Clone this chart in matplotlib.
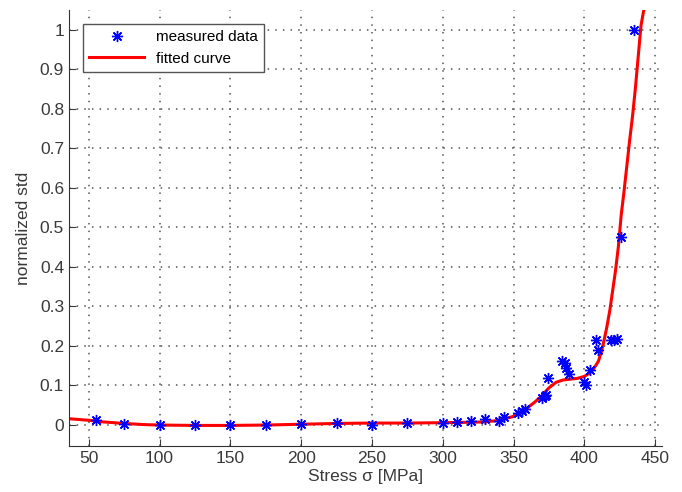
import numpy as np
import matplotlib
matplotlib.use("Agg")
import matplotlib.pyplot as plt

plt.rcParams['font.family'] = ['Liberation Sans', 'DejaVu Sans']

# measured points
stress = [55, 75, 100, 125, 150, 175, 200, 225, 250, 275, 300, 310, 320, 330,
          340, 343, 353, 356, 358, 370, 372, 373, 374, 384, 386, 387, 389,
          400, 401, 404, 408, 410, 419, 421, 423, 426, 435]
nstd = [0.012, 0.003, 0.0, 0.0, 0.0, 0.0, 0.003, 0.006, 0.001, 0.005, 0.005,
        0.008, 0.011, 0.015, 0.01, 0.02, 0.031, 0.035, 0.04, 0.068, 0.073,
        0.075, 0.12, 0.163, 0.157, 0.145, 0.128, 0.11, 0.1, 0.138, 0.215,
        0.19, 0.215, 0.215, 0.218, 0.476, 1.0]

# fitted curve
fit_x = [36, 50, 60, 75, 90, 100, 125, 150, 175, 200, 225, 250, 275, 300,
         320, 330, 340, 350, 355, 360, 365, 370, 375, 380, 385, 390, 395,
         400, 403, 406, 408, 410, 412, 414, 416, 418, 420, 422, 424, 426,
         428, 430, 432, 434, 436, 438, 440, 442, 443]
fit_y = [0.016, 0.012, 0.008, 0.004, 0.001, 0.0, -0.001, -0.001, 0.0, 0.002,
         0.004, 0.005, 0.005, 0.006, 0.007, 0.008, 0.012, 0.022, 0.03, 0.044,
         0.058, 0.074, 0.094, 0.108, 0.114, 0.116, 0.118, 0.123, 0.13, 0.14,
         0.15, 0.162, 0.185, 0.215, 0.25, 0.29, 0.34, 0.39, 0.45, 0.53, 0.59,
         0.655, 0.72, 0.78, 0.85, 0.93, 1.01, 1.05, 1.07]

fig = plt.figure(figsize=(6.82, 4.92), dpi=100)
ax = fig.add_axes([0.101, 0.0935, 0.87, 0.8865])

ax.plot(stress, nstd, linestyle='none', marker=(8, 2, 0), color='#0000ff',
        markersize=8, markeredgewidth=1.0, label='measured data', zorder=3)
ax.plot(fit_x, fit_y, color='#ff0000', linewidth=2.2, label='fitted curve', zorder=2)

ax.set_xlim(36, 455)
ax.set_ylim(-0.053, 1.05)
ax.set_xticks(np.arange(50, 451, 50))
ax.set_yticks(np.arange(0, 1.01, 0.1))
ax.set_yticklabels(['0', '0.1', '0.2', '0.3', '0.4', '0.5', '0.6', '0.7', '0.8', '0.9', '1'])

ax.grid(True, linestyle=(0, (1, 4)), color='#555555', linewidth=1.1)
ax.tick_params(direction='in', length=5, colors='#3a3a3a', labelsize=12.5)
for s in ['top', 'right']:
    ax.spines[s].set_visible(False)
for s in ['left', 'bottom']:
    ax.spines[s].set_color('#333333')

ax.set_xlabel('Stress σ [MPa]', fontsize=12.5, color='#3a3a3a', labelpad=2)
ax.set_ylabel('normalized std', fontsize=12.5, color='#3a3a3a', labelpad=6)

leg = ax.legend(loc='upper left', bbox_to_anchor=(0.024, 0.968), borderaxespad=0,
                fontsize=11, handlelength=3.6, fancybox=False, framealpha=1,
                edgecolor='#555555')
leg.get_frame().set_linewidth(1.0)

fig.savefig('out.png', dpi=100)
